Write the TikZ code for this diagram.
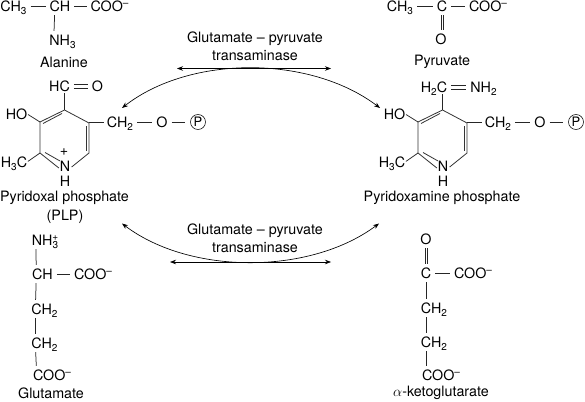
\documentclass[tikz,border=0pt]{standalone}
\usepackage{fontspec}
\setmainfont{TeX Gyre Heros}
\usetikzlibrary{arrows.meta}
\newcommand{\sbs}[1]{\raisebox{-3pt}{\fontsize{10}{10}\selectfont #1}}
\newcommand{\sps}{\raisebox{4.6pt}{\fontsize{10}{10}\selectfont –}}
\tikzset{
  x=1pt,y=-1pt,
  every node/.style={font=\fontsize{14.3}{18}\selectfont},
  atom/.style={inner sep=0pt,outer sep=0pt,text height=10.2pt,text depth=0pt},
  lbl/.style={inner sep=0pt,outer sep=0pt,align=center},
  bond/.style={line width=0.75pt,draw=black!85},
  hb/.style={bond,shorten <=4pt,shorten >=4pt},
  vb/.style={bond,shorten <=4pt,shorten >=4pt},
  ringb/.style={line width=0.8pt,draw=black!80},
  arr/.style={line width=0.65pt,-{Stealth[length=6pt,width=4.5pt]}},
  arrr/.style={line width=0.65pt,{Stealth[length=6pt,width=4.5pt]}-{Stealth[length=6pt,width=4.5pt]}},
  pcirc/.style={circle,draw,line width=0.55pt,inner sep=0pt,minimum size=15pt,font=\fontsize{13}{13}\selectfont}
}
\newcommand{\pyring}{%
  \coordinate (a1) at (64.5,110);
  \coordinate (a2) at (89,123);
  \coordinate (a3) at (89,153);
  \coordinate (a5) at (40,153);
  \coordinate (a6) at (40,122);
  \node[atom] (N) at (65,166) {N};
  \node[atom] (H) at (65,181) {H};
  \node[atom] (HO) at (16.5,114) {HO};
  \node[atom] (Me) at (14,162) {H\sbs{3}C};
  \node[atom] (CH) at (120,122) {CH\sbs{2}};
  \node[atom] (O) at (162,122) {O};
  \node[pcirc] (P) at (198,122) {P};
  \draw[ringb] (a1)--(a2)--(a3)--([xshift=1.5pt,yshift=-1pt]N.east);
  \draw[ringb] (a1)--(a6)--(a5)--([xshift=-1pt,yshift=-2pt]N.west);
  \draw[ringb] (62,113.5)--(43,123.5);
  \draw[ringb] (86.3,126)--(86.3,150.5);
  \draw[ringb] (45,152.5)--(N.north west);
  \draw[bond,shorten <=1pt] (HO.east)--(a6);
  \draw[bond,shorten <=1pt] (Me.east)--(a5);
  \draw[bond,shorten >=3pt] (a2|-CH)--(CH.west);
  \draw[hb] (CH.east)--(O.west);
  \draw[hb,shorten >=5pt] (O.east)--(P.west);
}
\begin{document}
\begin{tikzpicture}
\useasboundingbox (0,0) rectangle (585,401);

% Alanine
\node[atom] (a1) at (13.5,6) {CH\sbs{3}};
\node[atom] (a2) at (60,6) {CH};
\node[atom] (a3) at (109.5,6) {COO\sps};
\node[atom] (a4) at (62.5,40) {NH\sbs{3}};
\node[lbl] (alan) at (64,62) {Alanine};
\draw[hb] (a1.east)--(a2.west);
\draw[hb] (a2.east)--(a3.west);
\draw[vb] ([xshift=5pt]a2.south west)--([xshift=4.5pt]a4.north west);

% Pyruvate
\node[atom] (b1) at (400,6) {CH\sbs{3}};
\node[atom] (b2) at (442,6) {C};
\node[atom] (b3) at (488,6) {COO\sps};
\node[atom] (b4) at (441,39) {O};
\node[lbl] (pyr) at (442,62) {Pyruvate};
\draw[hb] (b1.east)--(b2.west);
\draw[hb] (b2.east)--(b3.west);
\draw[vb,transform canvas={xshift=-1.1pt}] (b2.south)--(b2.south|-b4.north);
\draw[vb,transform canvas={xshift=1.1pt}] (b2.south)--(b2.south|-b4.north);

% PLP
\begin{scope}[name prefix=L-]
  \pyring
  \node[lbl] (plus) at (64,152) {+};
  \node[atom] (hc) at (59.5,86) {HC};
  \node[atom] (co) at (97.5,86) {O};
  \draw[bond,shorten <=2pt] (hc.south-|a1)--(a1);
  \draw[hb,transform canvas={yshift=-2pt}] (hc.east)--(co.west);
  \draw[hb,transform canvas={yshift=2pt}] (hc.east)--(co.west);
\end{scope}
\node[lbl] (plpn) at (64.5,198) {Pyridoxal phosphate};
\node[lbl] (plpb) at (65,217) {(PLP)};

% PMP
\begin{scope}[xshift=378pt,name prefix=R-]
  \pyring
  \node[atom] (hc) at (56,87) {H\sbs{2}C};
  \node[atom] (co) at (105.5,87) {NH\sbs{2}};
  \draw[bond,shorten <=2pt] (hc.south-|a1)--(a1);
  \draw[hb,transform canvas={yshift=-2pt}] (hc.east)--(co.west);
  \draw[hb,transform canvas={yshift=2pt}] (hc.east)--(co.west);
\end{scope}
\node[lbl] (pmpn) at (442,198) {Pyridoxamine phosphate};

% Enzyme labels
\node[lbl] (e1) at (255,46) {Glutamate – pyruvate\\transaminase};
\node[lbl] (e2) at (255,238) {Glutamate – pyruvate\\transaminase};

% Arrows
\coordinate (h1l) at (177,68.5); \coordinate (h1r) at (331,68.5);
\coordinate (h2l) at (170,262);  \coordinate (h2r) at (331,262);
\draw[arrr] (h1l)--(h1r);
\draw[arrr] (h2l)--(h2r);
\coordinate (c1l) at (122,108); \coordinate (c1r) at (380,108);
\coordinate (c2l) at (122,223.5); \coordinate (c2r) at (379,223.5);
\draw[arrr] (c1l) .. controls (190,55) and (310,55) .. (c1r);
\draw[arrr] (c2l) .. controls (190,275) and (310,275) .. (c2r);

% Glutamate
\node[atom] (g1) at (45,240) {NH\sbs{3}\llap{\raisebox{5pt}{\fontsize{10}{10}\selectfont +}}};
\node[atom] (g2) at (42.5,274) {CH};
\node[atom] (g3) at (93,274) {COO\sps};
\node[atom] (g4) at (44.5,309) {CH\sbs{2}};
\node[atom] (g5) at (44.5,343) {CH\sbs{2}};
\node[atom] (g6) at (52,375) {COO\sps};
\node[lbl] (glu) at (51,393) {Glutamate};
\draw[vb] ([xshift=4pt]g1.south west)--([xshift=4pt]g2.north west);
\draw[hb] (g2.east)--(g3.west);
\draw[vb] ([xshift=4pt]g2.south west)--([xshift=4pt]g4.north west);
\draw[vb] ([xshift=4pt]g4.south west)--([xshift=4pt]g5.north west);
\draw[vb] ([xshift=4pt]g5.south west)--([xshift=3.5pt]g6.north west);

% alpha-ketoglutarate
\node[atom] (k1) at (426,239) {O};
\node[atom] (k2) at (426,273) {C};
\node[atom] (k3) at (473,273) {COO\sps};
\node[atom] (k4) at (434,308) {CH\sbs{2}};
\node[atom] (k5) at (434,342) {CH\sbs{2}};
\node[atom] (k6) at (441,375) {COO\sps};
\node[lbl] (kg) at (441,393) {$\alpha$-ketoglutarate};
\draw[vb,transform canvas={xshift=-1.1pt}] (k1.south)--(k2.north);
\draw[vb,transform canvas={xshift=1.1pt}] (k1.south)--(k2.north);
\draw[hb] (k2.east)--(k3.west);
\draw[vb] (k2.south)--(k2.south|-k4.north);
\draw[vb] (k2.south|-k4.south)--(k2.south|-k5.north);
\draw[vb] (k2.south|-k5.south)--(k2.south|-k6.north);
\end{tikzpicture}
\end{document}
